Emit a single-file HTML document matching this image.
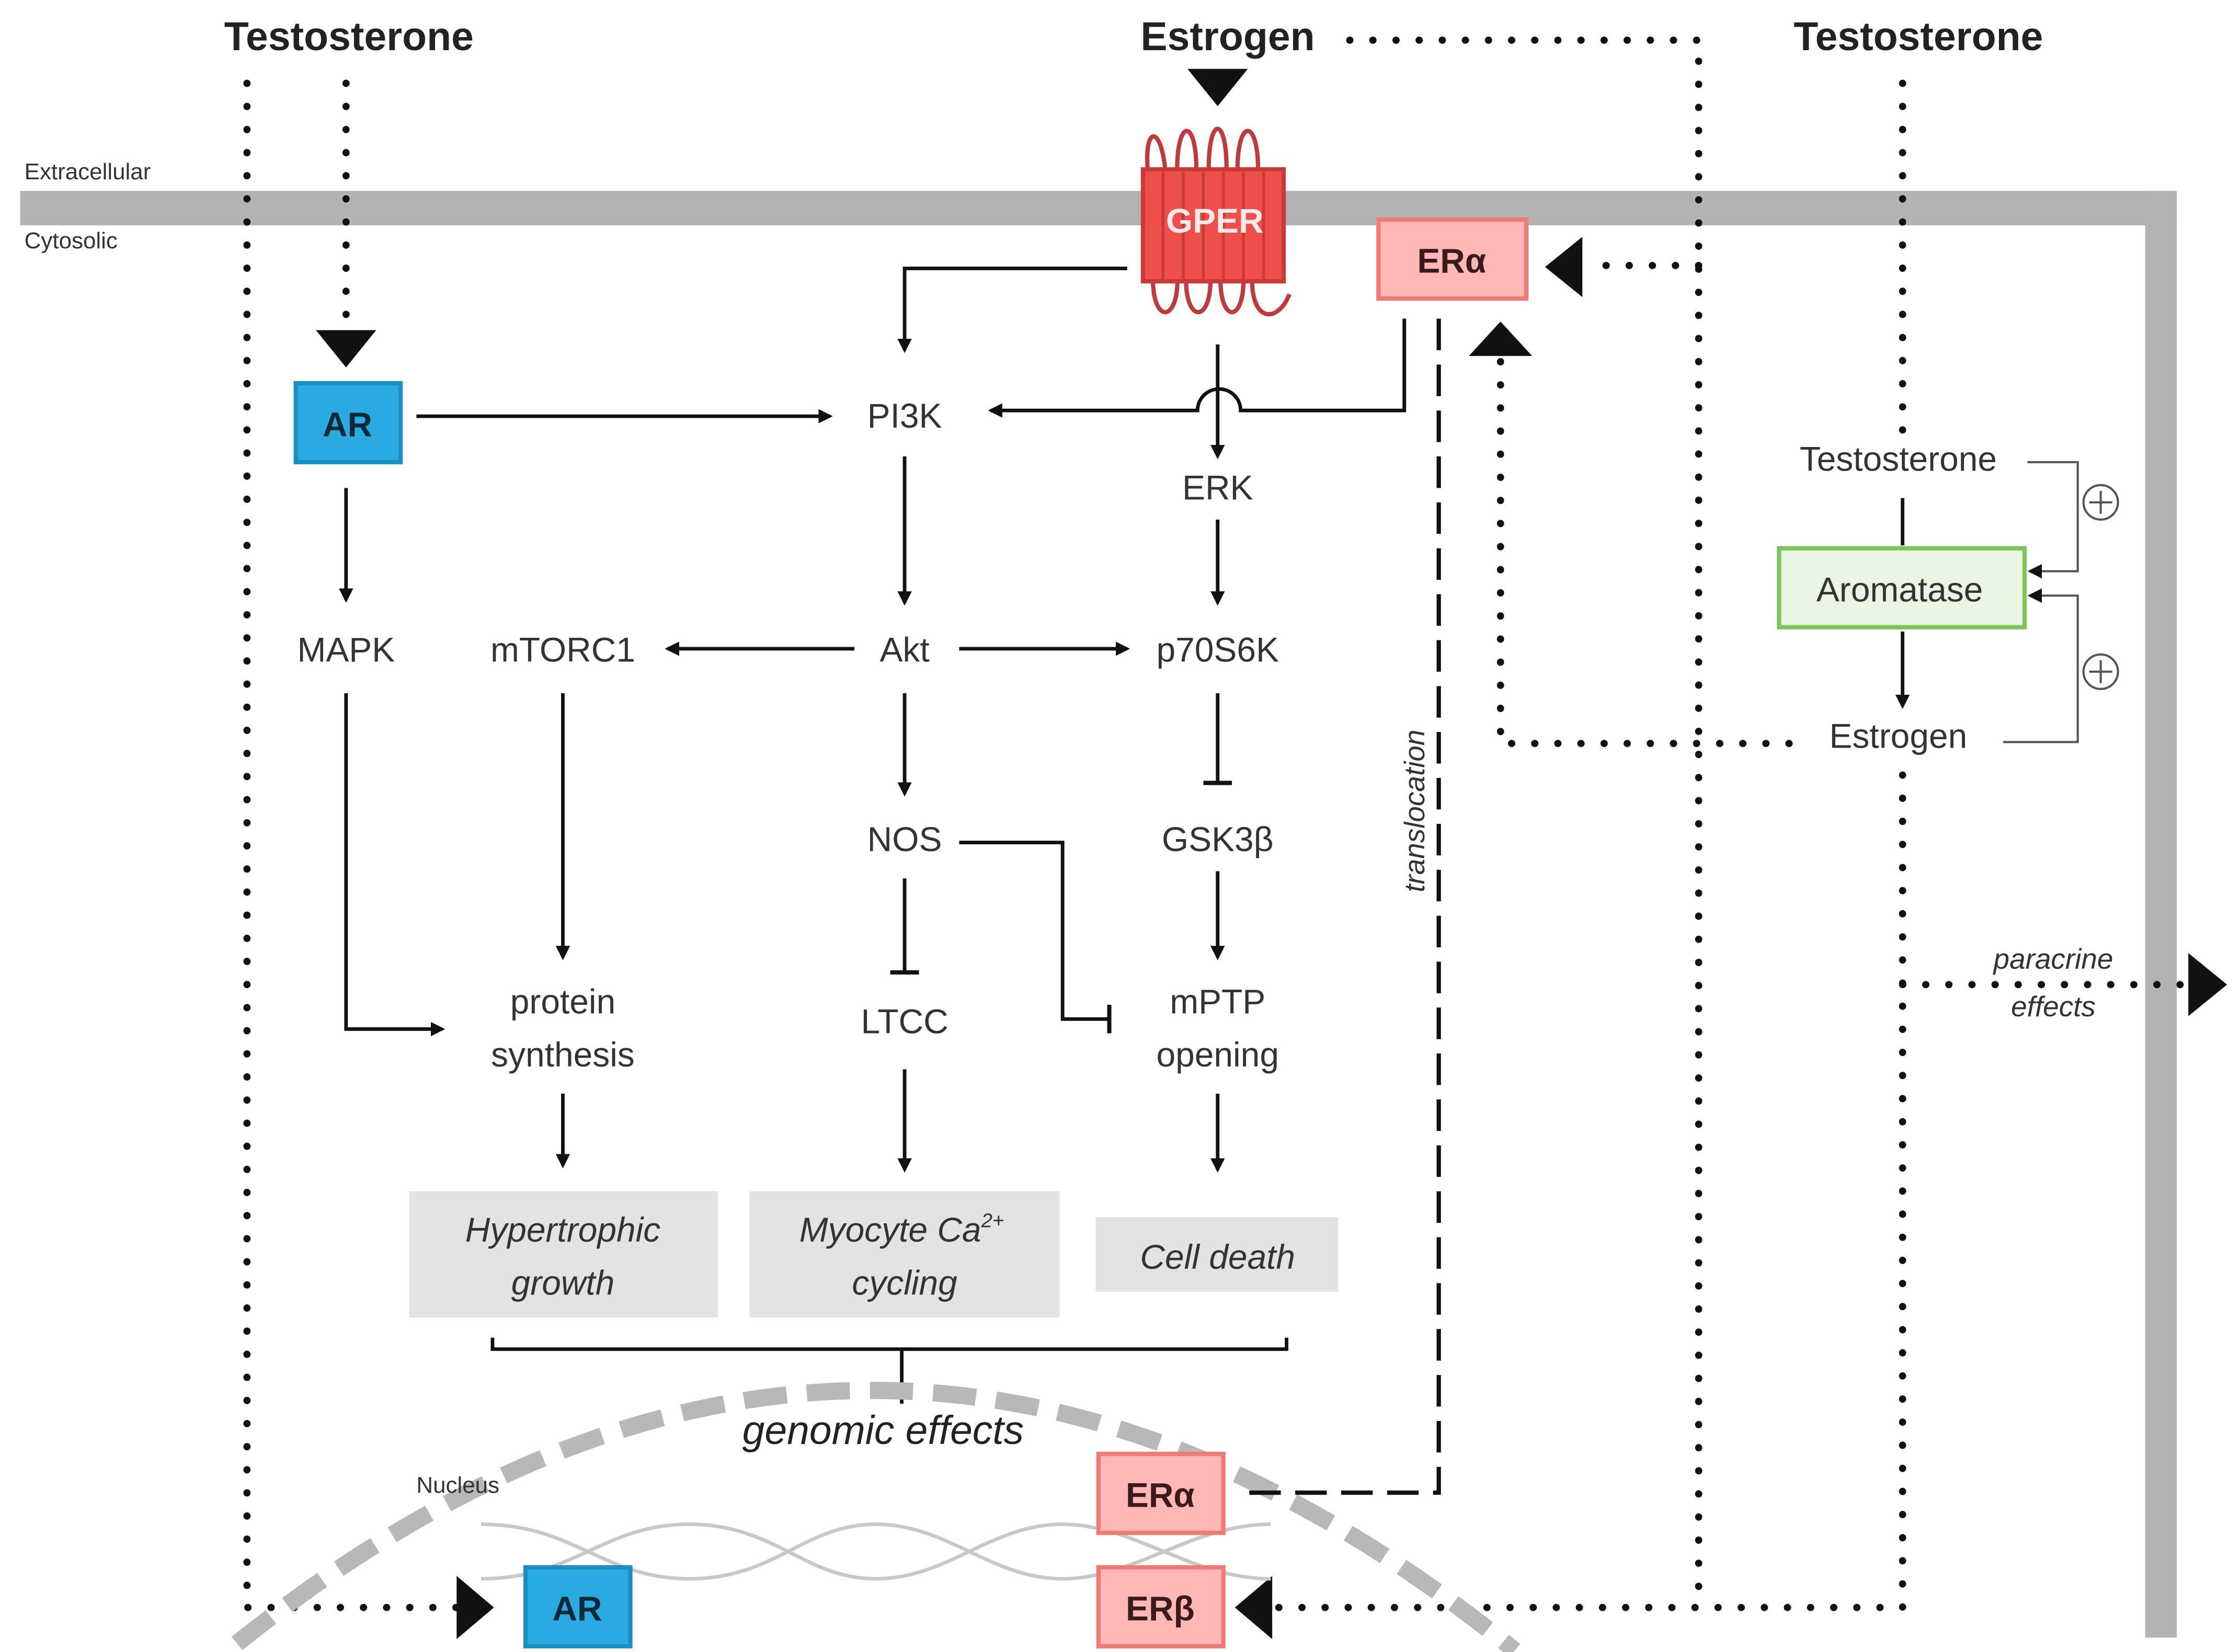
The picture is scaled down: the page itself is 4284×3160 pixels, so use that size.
<!DOCTYPE html>
<html><head><meta charset="utf-8"><style>
html,body{margin:0;padding:0;background:#fff;}
svg{display:block;}
text{font-family:"Liberation Sans","DejaVu Sans",sans-serif;fill:#333;}
</style></head><body>
<svg width="4284" height="3160" viewBox="0 0 1560 1151" preserveAspectRatio="none" xmlns="http://www.w3.org/2000/svg">
<defs>
<marker id="a" markerWidth="10" markerHeight="10" refX="8" refY="5" orient="auto" markerUnits="userSpaceOnUse"><path d="M0,0 L10,5 L0,10 z" fill="#111"/></marker>
<marker id="t" markerWidth="4" markerHeight="20" refX="2" refY="10" orient="auto" markerUnits="userSpaceOnUse"><rect x="0" y="0" width="3" height="20" fill="#111"/></marker>
</defs>
<rect x="0" y="0" width="1560" height="1151" fill="#fff"/>
<rect x="14" y="133" width="1502" height="24" fill="#b3b3b3"/>
<rect x="1494" y="133" width="22" height="1008" fill="#b3b3b3"/>
<text x="17" y="125" font-size="16">Extracellular</text>
<text x="17" y="173" font-size="16">Cytosolic</text>
<text x="243" y="35" font-size="28" font-weight="bold" text-anchor="middle" style="fill:#222">Testosterone</text>
<text x="855" y="35" font-size="28" font-weight="bold" text-anchor="middle" style="fill:#222">Estrogen</text>
<text x="1336" y="35" font-size="28" font-weight="bold" text-anchor="middle" style="fill:#222">Testosterone</text>
<g stroke="#111" stroke-width="5" stroke-dasharray="0.1 16" stroke-linecap="round" fill="none">
<path d="M172,58 V1120 H318"/>
<path d="M241,58 V228"/>
<path d="M940,28 H1183 V1120"/>
<path d="M1183,185 H1103"/>
<path d="M1325,58 V300"/>
<path d="M1325,540 V1120 H888"/>
<path d="M1325,686 H1522"/>
<path d="M1045,252 V518 H1262"/>
</g>
<g fill="#111">
<path d="M220,230 H262 L241,256 z"/>
<path d="M827,48 H869 L848,74 z"/>
<path d="M318,1098 V1142 L344,1120 z"/>
<path d="M886,1098 V1142 L860,1120 z"/>
<path d="M1102,165 V207 L1076,186 z"/>
<path d="M1023,248 H1067 L1045,224 z"/>
<path d="M1524,664 V708 L1551,686 z"/>
</g>
<g stroke="#c0393c" stroke-width="3" fill="none">
<path d="M800,125 C795,85 810,85 812,125 M820,125 C818,80 835,80 833,125 M842,125 C840,78 856,78 854,125 M862,125 C860,80 878,80 876,125"/>
<path d="M803,195 C803,225 820,225 820,195 M826,195 C826,225 843,225 843,195 M850,195 C850,225 866,225 866,195 M872,195 C872,225 890,225 898,205"/>
</g>
<rect x="796" y="118" width="98" height="78" fill="#ef4f4a" stroke="#c93a38" stroke-width="3"/>
<g stroke="#c93a38" stroke-width="2"><path d="M810,120V195M824,120V195M838,120V195M852,120V195M866,120V195M880,120V195"/></g>
<text x="846" y="162" font-size="24" font-weight="bold" text-anchor="middle" style="fill:#ffe8e8">GPER</text>
<rect x="960" y="153" width="103" height="55" fill="#ffb8b5" stroke="#f07a74" stroke-width="3"/>
<text x="1011" y="190" font-size="24" font-weight="bold" text-anchor="middle" style="fill:#3a1a1a">ERα</text>
<rect x="206" y="267" width="73" height="55" fill="#29abe2" stroke="#1a8fc2" stroke-width="3"/>
<text x="242" y="304" font-size="24" font-weight="bold" text-anchor="middle" style="fill:#0d2a3a">AR</text>
<g font-size="24" text-anchor="middle">
<text x="630" y="298">PI3K</text>
<text x="848" y="348">ERK</text>
<text x="241" y="461">MAPK</text>
<text x="392" y="461">mTORC1</text>
<text x="630" y="461">Akt</text>
<text x="848" y="461">p70S6K</text>
<text x="630" y="593">NOS</text>
<text x="848" y="593">GSK3β</text>
<text x="392" y="706">protein</text>
<text x="392" y="743">synthesis</text>
<text x="630" y="720">LTCC</text>
<text x="848" y="706">mPTP</text>
<text x="848" y="743">opening</text>
</g>
<g stroke="#111" stroke-width="2.5" fill="none">
<path d="M785,187 H630 V244" marker-end="url(#a)"/>
<path d="M290,290 H578" marker-end="url(#a)"/>
<path d="M978,222 V286 H864 A15,15 0 0 0 834,286 H690" marker-end="url(#a)"/>
<path d="M848,240 V318" marker-end="url(#a)"/>
<path d="M848,362 V420" marker-end="url(#a)"/>
<path d="M630,318 V420" marker-end="url(#a)"/>
<path d="M595,452 H465" marker-end="url(#a)"/>
<path d="M668,452 H785" marker-end="url(#a)"/>
<path d="M630,483 V553" marker-end="url(#a)"/>
<path d="M848,483 V546" marker-end="url(#t)"/>
<path d="M630,612 V678" marker-end="url(#t)"/>
<path d="M668,587 H740 V710 H773" marker-end="url(#t)"/>
<path d="M848,607 V667" marker-end="url(#a)"/>
<path d="M241,340 V418" marker-end="url(#a)"/>
<path d="M241,483 V717 H308" marker-end="url(#a)"/>
<path d="M392,483 V667" marker-end="url(#a)"/>
<path d="M392,762 V812" marker-end="url(#a)"/>
<path d="M630,745 V815" marker-end="url(#a)"/>
<path d="M848,762 V815" marker-end="url(#a)"/>
<path d="M343,932 V940 H896 V932 M628,940 V978"/>
</g>
<rect x="285" y="830" width="215" height="88" fill="#e3e3e3"/>
<rect x="522" y="830" width="216" height="88" fill="#e3e3e3"/>
<rect x="763" y="848" width="169" height="52" fill="#e3e3e3"/>
<g font-size="24" font-style="italic" text-anchor="middle">
<text x="392" y="865">Hypertrophic</text>
<text x="392" y="902">growth</text>
<text x="628" y="865">Myocyte Ca<tspan font-size="14" dy="-10">2+</tspan></text>
<text x="630" y="902">cycling</text>
<text x="848" y="884">Cell death</text>
<text x="615" y="1006" font-size="28" style="fill:#222">genomic effects</text>
</g>
<path d="M165,1145 Q610,790 1055,1150" stroke="#b8b8b8" stroke-width="12" stroke-dasharray="30 14" fill="none"/>
<text x="290" y="1040" font-size="16">Nucleus</text>
<g stroke="#c8c8c8" stroke-width="2.5" fill="none">
<path d="M335,1062 C400,1062 420,1100 480,1100 S560,1062 610,1062 S690,1100 740,1100 S830,1062 885,1062"/>
<path d="M335,1100 C400,1100 420,1062 480,1062 S560,1100 610,1100 S690,1062 740,1062 S830,1100 885,1100"/>
</g>
<rect x="366" y="1092" width="73" height="55" fill="#29abe2" stroke="#1a8fc2" stroke-width="3"/>
<text x="402" y="1129" font-size="24" font-weight="bold" text-anchor="middle" style="fill:#0d2a3a">AR</text>
<rect x="765" y="1013" width="87" height="55" fill="#ffb8b5" stroke="#f07a74" stroke-width="3"/>
<text x="808" y="1050" font-size="24" font-weight="bold" text-anchor="middle" style="fill:#3a1a1a">ERα</text>
<rect x="765" y="1092" width="87" height="55" fill="#ffb8b5" stroke="#f07a74" stroke-width="3"/>
<text x="808" y="1129" font-size="24" font-weight="bold" text-anchor="middle" style="fill:#3a1a1a">ERβ</text>
<path d="M1002,222 V1040 H860" stroke="#111" stroke-width="3" stroke-dasharray="22 10" fill="none"/>
<text x="0" y="0" font-size="20" font-style="italic" text-anchor="middle" transform="translate(992,565) rotate(-90)">translocation</text>
<text x="1322" y="328" font-size="24" text-anchor="middle">Testosterone</text>
<rect x="1239" y="382" width="171" height="55" fill="#e9f6e3" stroke="#7dc55a" stroke-width="3"/>
<text x="1323" y="419" font-size="24" text-anchor="middle">Aromatase</text>
<text x="1322" y="521" font-size="24" text-anchor="middle">Estrogen</text>
<g stroke="#111" stroke-width="2.5" fill="none">
<path d="M1325,347 V380"/>
<path d="M1325,440 V492" marker-end="url(#a)"/>
</g>
<g stroke="#555" stroke-width="1.5" fill="none">
<path d="M1412,322 H1447 V398 H1414" marker-end="url(#a)"/>
<path d="M1395,517 H1447 V415 H1414" marker-end="url(#a)"/>
<circle cx="1463" cy="350" r="12"/><path d="M1455,350 H1471 M1463,342 V358"/>
<circle cx="1463" cy="468" r="12"/><path d="M1455,468 H1471 M1463,460 V476"/>
</g>
<text x="1430" y="675" font-size="20" font-style="italic" text-anchor="middle">paracrine</text>
<text x="1430" y="708" font-size="20" font-style="italic" text-anchor="middle">effects</text>
</svg>
</body></html>
